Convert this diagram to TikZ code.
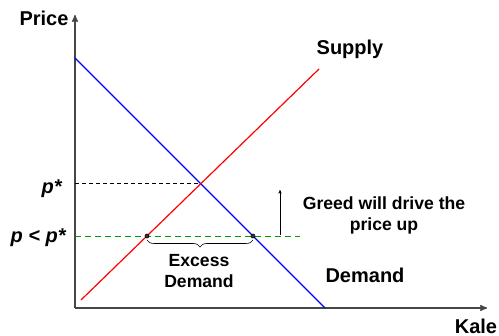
\documentclass[tikz,border=0pt]{standalone}
\usepackage{fontspec}
\setmainfont{Liberation Sans}
\usepackage{xcolor}
\usepackage{tikz}
\usetikzlibrary{arrows}
\usetikzlibrary{calc}
\usetikzlibrary{decorations.pathreplacing}

\definecolor{axisgray}{RGB}{70,70,70}
\definecolor{dashgreen}{RGB}{0,150,0}

\begin{document}
\begin{tikzpicture}[x=1pt,y=1pt,>=stealth',semithick]
	\tikzstyle{axis}=[draw=axisgray, line width=1.4pt]
	\tikzstyle{curve}=[line width=1.2pt]
	\tikzstyle{dot}=[draw=black, fill=black!80, circle, inner sep=0pt, minimum size=4pt]
	\tikzstyle{big}=[font=\fontsize{20}{24}\selectfont\bfseries, inner sep=0pt]
	\tikzstyle{small}=[font=\fontsize{17.6}{21}\selectfont\bfseries, inner sep=0pt, align=center]
	\useasboundingbox (0,0) rectangle (499,336);

	% axes
	\coordinate (o) at (75,28);
	\coordinate (ytop) at (75,321);
	\coordinate (xend) at (487,28);
	\draw[axis,->] (o) -- (ytop);
	\draw[axis,->] (o) -- (xend);

	% demand and supply
	\coordinate (d1) at (75,278);
	\coordinate (d2) at (325,28);
	\coordinate (s1) at (81,36);
	\coordinate (s2) at (319,267);
	\draw[curve,blue] (d1) -- (d2);
	\draw[curve,red] (s1) -- (s2);

	% equilibrium and the lower price
	\coordinate (eq) at (200.7,152.3);
	\coordinate (peq) at (75,152.3);
	\coordinate (plo) at (75,100);
	\coordinate (plo2) at (300,100);
	\draw[thin,dashed,dash pattern=on 4pt off 3pt] (peq) -- (eq);
	\draw[dashgreen,thick,dash pattern=on 6pt off 4pt] (plo) -- (plo2);
	\node[dot] (qs) at (147,100) {};
	\node[dot] (qd) at (253,100) {};
	\draw[decorate,decoration={brace,amplitude=7pt}] ($(qd)+(0,-4)$) -- ($(qs)+(0,-4)$);

	% upward push
	\coordinate (up1) at (280,101);
	\coordinate (up2) at (280,146);
	\draw[thin,->] (up1) -- (up2);

	% labels
	\node[big] (price) at (44,318) {Price};
	\node[big] (kale) at (476,10) {Kale};
	\node[big] (supply) at (350,287) {Supply};
	\node[big] (demand) at (365,61) {Demand};
	\node[big,anchor=base east] (pstar) at (62,142) {\itshape p*};
	\node[big,anchor=base east] (plow) at (66,93) {\itshape p < p*};
	\node[small] (greed) at (384,121) {Greed will drive the\\price up};
	\node[small] (excess) at (199,64.5) {Excess\\Demand};
\end{tikzpicture}
\end{document}
